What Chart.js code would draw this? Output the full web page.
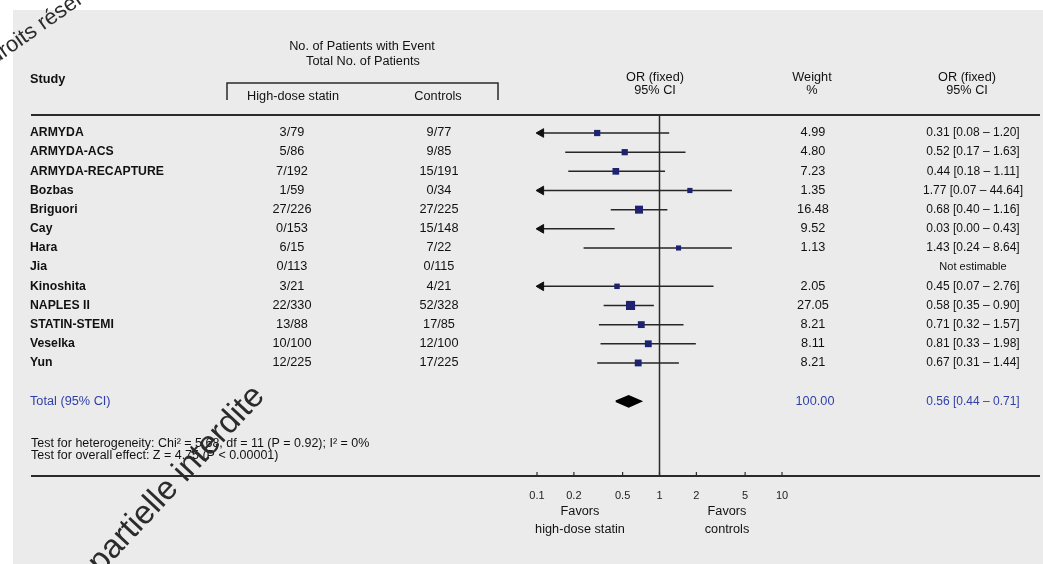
<!DOCTYPE html>
<html><head><meta charset="utf-8">
<script src="https://cdn.jsdelivr.net/npm/chart.js@4.4.0/dist/chart.umd.min.js"></script>
<style>html,body{margin:0;padding:0;background:#fff;}canvas{display:block}</style>
</head><body>
<canvas id="c" width="1043" height="564"></canvas>
<script>
// ---- data ----
const studies = ['ARMYDA','ARMYDA-ACS','ARMYDA-RECAPTURE','Bozbas','Briguori','Cay','Hara','Jia','Kinoshita','NAPLES II','STATIN-STEMI','Veselka','Yun'];
const highDoseEvents = ['3/79','5/86','7/192','1/59','27/226','0/153','6/15','0/113','3/21','22/330','13/88','10/100','12/225'];
const controlEvents = ['9/77','9/85','15/191','0/34','27/225','15/148','7/22','0/115','4/21','52/328','17/85','12/100','17/225'];
const weights = [4.99,4.80,7.23,1.35,16.48,9.52,1.13,null,2.05,27.05,8.21,8.11,8.21];
const weightLabels = ['4.99','4.80','7.23','1.35','16.48','9.52','1.13','','2.05','27.05','8.21','8.11','8.21'];
const oddsRatios = [0.31,0.52,0.44,1.77,0.68,0.03,1.43,null,0.45,0.58,0.71,0.81,0.67];
const ciLower = [0.08,0.17,0.18,0.07,0.40,0.00,0.24,null,0.07,0.35,0.32,0.33,0.31];
const ciUpper = [1.20,1.63,1.11,3.9,1.16,0.43,3.9,null,2.76,0.90,1.57,1.98,1.44];
const ciLabels = ['0.31 [0.08 – 1.20]','0.52 [0.17 – 1.63]','0.44 [0.18 – 1.11]','1.77 [0.07 – 44.64]','0.68 [0.40 – 1.16]','0.03 [0.00 – 0.43]','1.43 [0.24 – 8.64]','Not estimable','0.45 [0.07 – 2.76]','0.58 [0.35 – 0.90]','0.71 [0.32 – 1.57]','0.81 [0.33 – 1.98]','0.67 [0.31 – 1.44]'];
const totalOR = 0.56, totalLower = 0.44, totalUpper = 0.71;
const totalWeightLabel = '100.00';
const totalCiLabel = '0.56 [0.44 – 0.71]';
const tickValues = [0.1,0.2,0.5,1,2,5,10];

// ---- derived ----
const XMIN = 0.1, XMAX = 10;
const rowPos = studies.map((_, i) => i + 1);
const totalPos = 15;
const FONT = "'Liberation Sans', Arial, sans-serif";
const BLUE = '#2f3fa8';

const ciData = [];
studies.forEach((s, i) => {
  if (ciLower[i] === null) return;
  ciData.push({x: Math.max(ciLower[i], XMIN), y: rowPos[i]});
  ciData.push({x: Math.min(ciUpper[i], XMAX), y: rowPos[i]});
  ciData.push({x: null, y: null});
});
const arrowData = [];
studies.forEach((s, i) => {
  if (ciLower[i] !== null && ciLower[i] < XMIN) arrowData.push({x: XMIN * 1.08, y: rowPos[i]});
});
const markerData = [];
studies.forEach((s, i) => {
  const v = oddsRatios[i];
  if (v !== null && v >= XMIN && v <= XMAX) markerData.push({x: v, y: rowPos[i], w: weights[i]});
});
const dh = 0.29;
const diamondData = [
  {x: totalLower, y: totalPos}, {x: totalOR, y: totalPos - dh},
  {x: totalUpper, y: totalPos}, {x: totalOR, y: totalPos + dh}, {x: totalLower, y: totalPos}
];

function txt(ctx, s, x, y, align, font, color, sx) {
  sx = sx || 1.06;
  ctx.save();
  ctx.font = font; ctx.fillStyle = color || '#111';
  ctx.textAlign = align; ctx.textBaseline = 'middle';
  ctx.translate(x, y); ctx.scale(sx, 1);
  ctx.fillText(s, 0, 0);
  ctx.restore();
}

const bgPlugin = {
  id: 'bg',
  beforeDraw(chart) {
    const c = chart.ctx;
    c.save();
    c.fillStyle = '#ffffff'; c.fillRect(0, 0, chart.width, chart.height);
    c.fillStyle = '#ebebeb'; c.fillRect(13, 10, chart.width - 13, chart.height - 10);
    c.restore();
  }
};

const tablePlugin = {
  id: 'table',
  beforeDatasetsDraw(chart) {
    const c = chart.ctx, xs = chart.scales.x, a = chart.chartArea;
    c.save();
    c.strokeStyle = '#2a2a2a';
    c.lineWidth = 2;
    c.beginPath(); c.moveTo(31, a.top); c.lineTo(1040, a.top); c.stroke();
    c.beginPath(); c.moveTo(31, a.bottom); c.lineTo(1040, a.bottom); c.stroke();
    c.lineWidth = 1.5;
    const x1 = xs.getPixelForValue(1);
    c.beginPath(); c.moveTo(x1, a.top); c.lineTo(x1, a.bottom); c.stroke();
    c.lineWidth = 1.2;
    tickValues.forEach(v => {
      const px = xs.getPixelForValue(v);
      c.beginPath(); c.moveTo(px, a.bottom); c.lineTo(px, a.bottom - 4); c.stroke();
    });
    c.lineWidth = 1.5;
    c.beginPath(); c.moveTo(227, 100); c.lineTo(227, 83); c.lineTo(498, 83); c.lineTo(498, 100); c.stroke();
    c.restore();
  },
  afterDraw(chart) {
    const c = chart.ctx, ys = chart.scales.y;
    c.save();
    const reg = '12px ' + FONT, bold = 'bold 12px ' + FONT;
    txt(c, 'No. of Patients with Event', 362, 47, 'center', reg);
    txt(c, 'Total No. of Patients', 363, 62, 'center', reg);
    txt(c, 'Study', 30, 80, 'left', bold);
    txt(c, 'High-dose statin', 293, 97, 'center', reg);
    txt(c, 'Controls', 438, 97, 'center', reg);
    txt(c, 'OR (fixed)', 655, 78, 'center', reg);
    txt(c, '95% CI', 655, 91, 'center', reg);
    txt(c, 'Weight', 812, 78, 'center', reg);
    txt(c, '%', 812, 91, 'center', reg);
    txt(c, 'OR (fixed)', 967, 78, 'center', reg);
    txt(c, '95% CI', 967, 91, 'center', reg);
    studies.forEach((s, i) => {
      const y = ys.getPixelForValue(rowPos[i]);
      txt(c, s, 30, y, 'left', bold, '#111', 1.02);
      txt(c, highDoseEvents[i], 292, y, 'center', reg);
      txt(c, controlEvents[i], 439, y, 'center', reg);
      txt(c, weightLabels[i], 813, y, 'center', reg);
      txt(c, ciLabels[i], 973, y, 'center', i === 7 ? '11px ' + FONT : reg, '#111', 1.0);
    });
    const yt = ys.getPixelForValue(totalPos);
    txt(c, 'Total (95% CI)', 30, yt, 'left', reg, BLUE);
    txt(c, totalWeightLabel, 815, yt, 'center', reg, BLUE);
    txt(c, totalCiLabel, 973, yt, 'center', reg, BLUE, 1.0);
    txt(c, 'Test for heterogeneity: Chi² = 5.68, df = 11 (P = 0.92); I² = 0%', 31, 444, 'left', '12px ' + FONT, '#111', 1.04);
    txt(c, 'Test for overall effect: Z = 4.75 (P < 0.00001)', 31, 456, 'left', '12px ' + FONT, '#111', 1.04);
    txt(c, 'Favors', 580, 512, 'center', reg);
    txt(c, 'high-dose statin', 580, 530, 'center', reg);
    txt(c, 'Favors', 727, 512, 'center', reg);
    txt(c, 'controls', 727, 530, 'center', reg);
    // watermarks
    c.save();
    c.translate(-9, 60); c.rotate(-35 * Math.PI / 180);
    txt(c, 'droits réservés', 0, 0, 'left', '22px ' + FONT, '#2b2b2b', 1);
    c.restore();
    c.save();
    c.translate(94, 568); c.rotate(-47 * Math.PI / 180);
    txt(c, 'partielle interdite', 0, 0, 'left', '33px ' + FONT, '#2b2b2b', 1);
    c.restore();
    c.restore();
  }
};

new Chart(document.getElementById('c'), {
  type: 'scatter',
  data: {
    datasets: [
      {
        label: 'CI', data: ciData, showLine: true, spanGaps: false,
        borderColor: '#262626', borderWidth: 1.5, pointRadius: 0, clip: false, order: 3
      },
      {
        label: 'arrows', data: arrowData, showLine: false,
        pointStyle: 'triangle', rotation: -90, pointRadius: 5,
        backgroundColor: '#111', borderColor: '#111', borderWidth: 1, clip: false, order: 2
      },
      {
        label: 'OR', data: markerData, showLine: false, pointStyle: 'rect',
        pointRadius: ctx => 2.9 + Math.sqrt((ctx.raw && ctx.raw.w) || 1) * 0.68,
        backgroundColor: '#1d2370', borderColor: '#1d2370', borderWidth: 0, order: 1
      },
      {
        label: 'Total', data: diamondData, showLine: true, tension: 0,
        fill: 'shape', backgroundColor: '#000', borderColor: '#000', borderWidth: 1.5,
        pointRadius: 0, order: 0
      }
    ]
  },
  options: {
    responsive: false, animation: false, devicePixelRatio: 1,
    layout: {padding: {left: 537, right: 261, top: 115, bottom: 0}},
    plugins: {legend: {display: false}, tooltip: {enabled: false}},
    scales: {
      x: {
        type: 'logarithmic', min: XMIN, max: XMAX, position: 'bottom',
        grid: {display: false, drawTicks: false}, border: {display: false},
        afterBuildTicks: s => { s.ticks = tickValues.map(v => ({value: v})); },
        afterFit: s => { s.height = 88; },
        ticks: {autoSkip: false, maxRotation: 0, padding: 13, color: '#222',
                font: {family: FONT, size: 11}, callback: v => String(v)}
      },
      y: {type: 'linear', min: 0.06, max: 18.9, reverse: true, display: false}
    }
  },
  plugins: [bgPlugin, tablePlugin]
});
</script>
</body></html>
